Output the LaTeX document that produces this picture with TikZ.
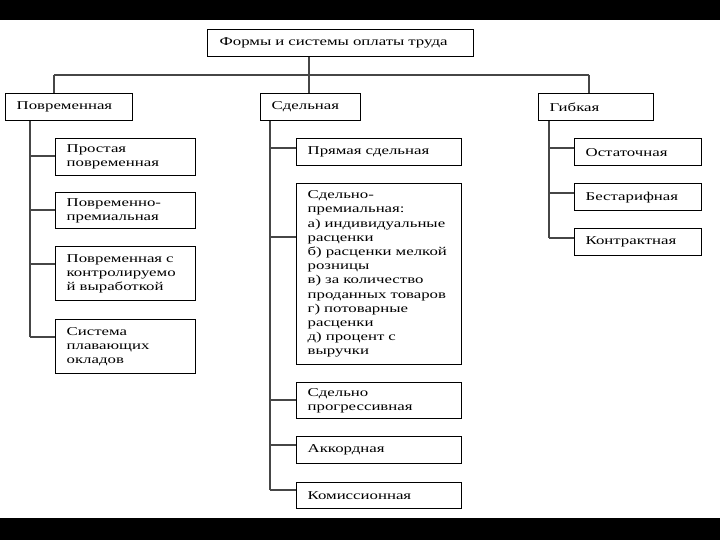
\documentclass[tikz,border=0pt]{standalone}
\usepackage{fontspec}
\setmainfont{Liberation Serif}[FakeStretch=1.4]
\begin{document}
\begin{tikzpicture}[x=1pt,y=-1pt,
  box/.style={draw=black, line width=1.3pt, inner xsep=11pt, inner ysep=0pt,
    anchor=north west, align=left, font=\fontsize{12}{14.2}\selectfont},
  conn/.style={draw=gray!55!black, line width=1.5pt},
  bus/.style={draw=gray!55!black, line width=2pt}]
\useasboundingbox (0,0) rectangle (720,540);
\fill[black] (0,0) rectangle (720,20);
\fill[black] (0,518) rectangle (720,540);

% root and level 1
\node[box, minimum width=266pt, minimum height=27pt, text width=242pt] (root) at (207,29) {Формы и системы оплаты труда};
\node[box, minimum width=127pt, minimum height=27pt, text width=105pt] (pov) at (5,93) {Повременная};
\node[box, minimum width=100pt, minimum height=27pt, text width=78pt] (sdel) at (260,93) {Сдельная};
\node[box, minimum width=115pt, minimum height=27pt, text width=93pt] (gib) at (538,93) {Гибкая};

\coordinate (busL) at (54,75);
\coordinate (busM) at (309,75);
\coordinate (busR) at (589,75);
\draw[bus] (busL) -- (busR);
\draw[bus] (root.south -| busM) -- (busM);
\draw[bus] (busL) -- (busL |- pov.north);
\draw[bus] (busM) -- (busM |- sdel.north);
\draw[bus] (busR) -- (busR |- gib.north);

% left column
\node[box, minimum width=140pt, minimum height=37pt, text width=118pt] (l1) at (55,138) {Простая\\повременная};
\node[box, minimum width=140pt, minimum height=36pt, text width=118pt] (l2) at (55,192) {Повременно-\\премиальная};
\node[box, minimum width=140pt, minimum height=54pt, text width=118pt] (l3) at (55,246) {Повременная с\\контролируемо\\й выработкой};
\node[box, minimum width=140pt, minimum height=54pt, text width=118pt] (l4) at (55,319) {Система\\плавающих\\окладов};
\coordinate (colL) at (30,120);
\coordinate (kl1) at ([yshift=-18pt]l1.north west);
\coordinate (kl2) at ([yshift=-18pt]l2.north west);
\coordinate (kl3) at ([yshift=-18pt]l3.north west);
\coordinate (kl4) at ([yshift=-18pt]l4.north west);
\draw[conn] (pov.south -| colL) -- (kl4 -| colL);
\foreach \k in {kl1,kl2,kl3,kl4} \draw[conn] (\k -| colL) -- (\k);

% middle column
\node[box, minimum width=165pt, minimum height=27pt, text width=143pt] (m1) at (296,138) {Прямая сдельная};
\node[box, minimum width=165pt, minimum height=181pt, text width=143pt] (m2) at (296,183) {Сдельно-\\премиальная:\\а) индивидуальные\\расценки\\б) расценки мелкой\\розницы\\в) за количество\\проданных товаров\\г) потоварные\\расценки\\д) процент с\\выручки};
\node[box, minimum width=165pt, minimum height=36pt, text width=143pt] (m3) at (296,382) {Сдельно\\прогрессивная};
\node[box, minimum width=165pt, minimum height=27pt, text width=143pt] (m4) at (296,436) {Аккордная};
\node[box, minimum width=165pt, minimum height=26pt, text width=143pt] (m5) at (296,482) {Комиссионная};
\coordinate (colM) at (270,120);
\coordinate (km1) at ([yshift=-10pt]m1.north west);
\coordinate (km2) at ([yshift=-54pt]m2.north west);
\coordinate (km3) at ([yshift=-18pt]m3.north west);
\coordinate (km4) at ([yshift=-9pt]m4.north west);
\coordinate (km5) at ([yshift=-8pt]m5.north west);
\draw[conn] (sdel.south -| colM) -- (km5 -| colM);
\foreach \k in {km1,km2,km3,km4,km5} \draw[conn] (\k -| colM) -- (\k);

% right column
\node[box, minimum width=127pt, minimum height=27pt, text width=105pt] (r1) at (574,138) {Остаточная};
\node[box, minimum width=127pt, minimum height=27pt, text width=105pt] (r2) at (574,183) {Бестарифная};
\node[box, minimum width=127pt, minimum height=27pt, text width=105pt] (r3) at (574,228) {Контрактная};
\coordinate (colR) at (549,120);
\coordinate (kr1) at ([yshift=-10pt]r1.north west);
\coordinate (kr2) at ([yshift=-10pt]r2.north west);
\coordinate (kr3) at ([yshift=-10pt]r3.north west);
\draw[bus] (gib.south -| colR) -- (kr3 -| colR);
\foreach \k in {kr1,kr2,kr3} \draw[bus] (\k -| colR) -- (\k);
\end{tikzpicture}
\end{document}
